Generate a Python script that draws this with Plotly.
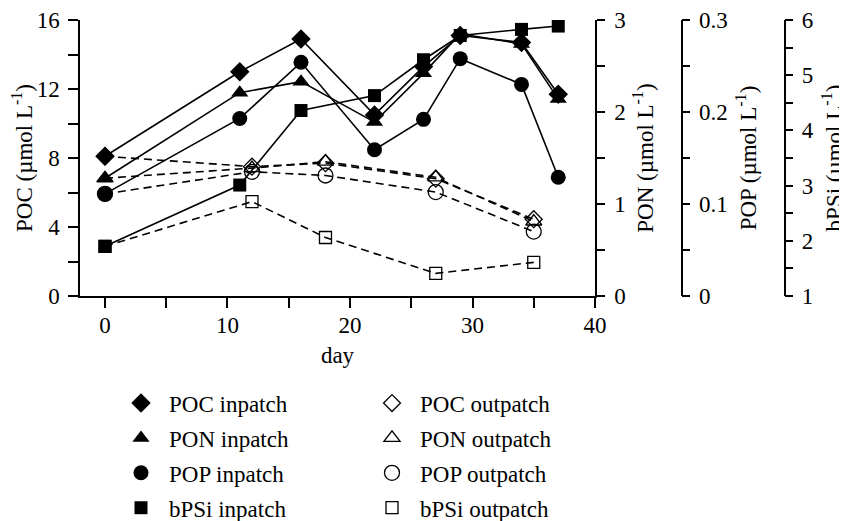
import plotly.graph_objects as go

# ---- data ----
days_in = [0, 11, 16, 22, 26, 29, 34, 37]
days_out = [0, 12, 18, 27, 35]

poc_in = [8.1, 13.0, 14.9, 10.5, 13.3, 15.1, 14.7, 11.7]
pon_in = [1.28, 2.21, 2.33, 1.89, 2.42, 2.85, 2.74, 2.14]
pop_in = [0.111, 0.193, 0.254, 0.159, 0.192, 0.258, 0.230, 0.129]
bpsi_in = [1.90, 3.01, 4.36, 4.63, 5.28, 5.72, 5.83, 5.89]

poc_out = [8.1, 7.5, 7.7, 6.8, 4.45]
pon_out = [1.28, 1.39, 1.46, 1.29, 0.81]
pop_out = [0.111, 0.135, 0.131, 0.113, 0.070]
bpsi_out = [1.90, 2.71, 2.06, 1.41, 1.61]

FONT = "Liberation Serif, Times New Roman, Times, DejaVu Serif, serif"
FS = 23
BLACK = "black"

# figure is 8px smaller than the window: the page body adds an 8px margin
W, H = 839, 513
L, R, T, B = 72, 57, 12, 225
PW = W - L - R  # paper width

fig = go.Figure()

series_out = [
    ("POC outpatch", poc_out, "y", "diamond-open", 13),
    ("PON outpatch", pon_out, "y2", "triangle-up-open", 14),
    ("POP outpatch", pop_out, "y3", "circle-open", 15),
    ("bPSi outpatch", bpsi_out, "y4", "square-open", 12),
]
series_in = [
    ("POC inpatch", poc_in, "y", "diamond", 15),
    ("PON inpatch", pon_in, "y2", "triangle-up", 15),
    ("POP inpatch", pop_in, "y3", "circle", 15),
    ("bPSi inpatch", bpsi_in, "y4", "square", 13),
]

for name, vals, ax, sym, sz in series_out:
    fig.add_trace(go.Scatter(
        x=days_out, y=vals, yaxis=ax, mode="lines+markers", name=name,
        line=dict(color=BLACK, width=1.6, dash="8px,5px"),
        marker=dict(symbol=sym, size=sz, color=BLACK, line=dict(color=BLACK, width=1.3)),
        showlegend=False,
    ))
for name, vals, ax, sym, sz in series_in:
    fig.add_trace(go.Scatter(
        x=days_in, y=vals, yaxis=ax, mode="lines+markers", name=name,
        line=dict(color=BLACK, width=1.6),
        marker=dict(symbol=sym, size=sz, color=BLACK, line=dict(color=BLACK, width=0)),
        showlegend=False,
    ))

# legend-only entries (markers only, like the reference)
for i, (name, vals, ax, sym, sz) in enumerate(series_in):
    fig.add_trace(go.Scatter(
        x=[None], y=[None], mode="markers", name=name, legend="legend",
        legendgroup="a%d" % i,
        marker=dict(symbol=sym, size=sz, color=BLACK, line=dict(width=0)),
    ))
for i, (name, vals, ax, sym, sz) in enumerate(series_out):
    fig.add_trace(go.Scatter(
        x=[None], y=[None], mode="markers", name=name, legend="legend2",
        legendgroup="b%d" % i,
        marker=dict(symbol=sym, size=sz, color=BLACK, line=dict(color=BLACK, width=1.3)),
    ))

axis_common = dict(
    showline=True, linecolor=BLACK, linewidth=1.5, ticks="outside",
    tickcolor=BLACK, tickwidth=1.5, showgrid=False, zeroline=False,
    tickfont=dict(family=FONT, size=FS, color=BLACK), automargin=False,
)

fig.update_layout(
    width=W, height=H,
    margin=dict(l=L, r=R, t=T, b=B, autoexpand=False),
    paper_bgcolor="white", plot_bgcolor="white",
    font=dict(family=FONT, size=FS, color=BLACK),
    xaxis=dict(
        domain=[0, (587 - L) / PW], range=[-2.04, 40], dtick=10, tick0=0, ticklen=10,
        ticklabelstandoff=-2,
        minor=dict(dtick=5, tick0=0, ticks="outside", ticklen=10, tickcolor=BLACK, tickwidth=1.5),
        title=dict(text="day", font=dict(family=FONT, size=FS), standoff=10),
        **axis_common,
    ),
    yaxis=dict(
        range=[0, 16], dtick=4, ticklen=10, ticklabelstandoff=4,
        minor=dict(dtick=2, ticks="outside", ticklen=10, tickcolor=BLACK, tickwidth=1.5),
        title=dict(text="POC (µmol L<sup>-1</sup>)", font=dict(family=FONT, size=FS), standoff=0),
        **axis_common,
    ),
    yaxis2=dict(
        overlaying="y", side="right", anchor="x", range=[0, 3], dtick=1, ticklen=8,
        ticklabelstandoff=5,
        minor=dict(dtick=0.5, ticks="outside", ticklen=8, tickcolor=BLACK, tickwidth=1.5),
        title=dict(text="PON (µmol L<sup>-1</sup>)", font=dict(family=FONT, size=FS), standoff=12),
        **axis_common,
    ),
    yaxis3=dict(
        overlaying="y", side="right", anchor="free", position=(673.7 - L) / PW,
        range=[0, 0.3], dtick=0.1, ticklen=8, ticklabelstandoff=4,
        minor=dict(dtick=0.05, ticks="outside", ticklen=8, tickcolor=BLACK, tickwidth=1.5),
        title=dict(text="POP (µmol L<sup>-1</sup>)", font=dict(family=FONT, size=FS), standoff=12),
        **axis_common,
    ),
    yaxis4=dict(
        overlaying="y", side="right", anchor="free", position=(776.5 - L) / PW,
        range=[1, 6], dtick=1, ticklen=8, ticklabelstandoff=4,
        minor=dict(dtick=0.5, ticks="outside", ticklen=8, tickcolor=BLACK, tickwidth=1.5),
        title=dict(text="bPSi (µmol L<sup>-1</sup>)", font=dict(family=FONT, size=FS), standoff=22),
        **axis_common,
    ),
    legend=dict(
        x=(105 - L) / PW, y=-0.31, xanchor="left", yanchor="top",
        orientation="v", tracegroupgap=2, itemwidth=46,
        font=dict(family=FONT, size=FS), bgcolor="rgba(0,0,0,0)",
    ),
    legend2=dict(
        x=(356 - L) / PW, y=-0.31, xanchor="left", yanchor="top",
        orientation="v", tracegroupgap=2, itemwidth=46,
        font=dict(family=FONT, size=FS), bgcolor="rgba(0,0,0,0)",
    ),
)

fig.write_html("out.html")
